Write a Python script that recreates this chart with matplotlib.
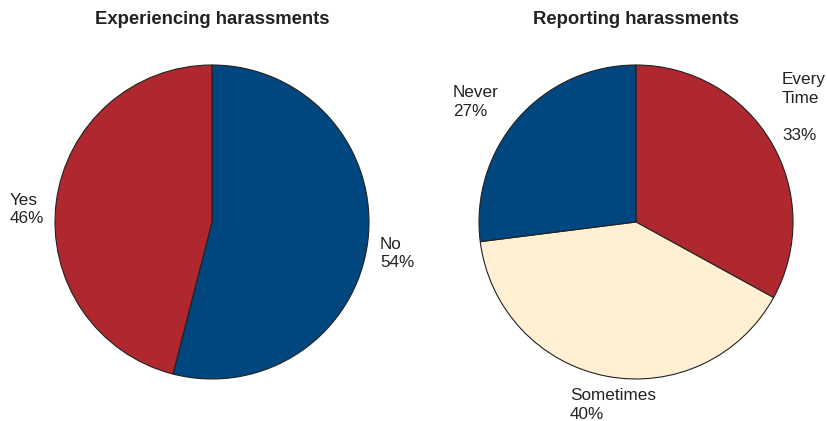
import matplotlib.pyplot as plt

plt.rcParams['font.family'] = ['Liberation Sans', 'DejaVu Sans']

# experiencing harassments
exp_labels = ['No', 'Yes']
exp_values = [54, 46]
# reporting harassments
rep_labels = ['Every\nTime\n', 'Sometimes', 'Never']
rep_values = [33, 40, 27]

blue = '#00467F'
red = '#B0282F'
cream = '#FFF0D4'

fig = plt.figure(figsize=(8.27, 4.21), dpi=100)
ax1 = fig.add_axes([0.0665, 0.0998, 0.3797, 0.7458])
ax2 = fig.add_axes([0.5792, 0.0998, 0.3797, 0.7458])

wp = dict(edgecolor='#222222', linewidth=0.8)
ax1.pie(exp_values, colors=[blue, red], startangle=90, counterclock=False,
        wedgeprops=wp)
ax2.pie(rep_values, colors=[red, cream, blue], startangle=90, counterclock=False,
        wedgeprops=wp)

for ax in (ax1, ax2):
    ax.set_xlim(-1, 1)
    ax.set_ylim(-1, 1)
    ax.set_aspect('equal')
    ax.axis('off')

# label positions in pie radius units
exp_pos = [(1.07, -0.20), (-1.287, 0.08)]
rep_pos = [(0.93, 0.73), (-0.42, -1.166), (-1.166, 0.764)]

fs = 12.3
for lab, v, (x, y) in zip(exp_labels, exp_values, exp_pos):
    ax1.text(x, y, f'{lab}\n{v}%', ha='left', va='center', fontsize=fs,
             color='#222222', linespacing=1.3, clip_on=False)
for lab, v, (x, y) in zip(rep_labels, rep_values, rep_pos):
    ax2.text(x, y, f'{lab}\n{v}%', ha='left', va='center', fontsize=fs,
             color='#222222', linespacing=1.3, clip_on=False)

fig.text(212 / 827, 1 - 20 / 421, 'Experiencing harassments', ha='center',
         va='center', fontsize=13.3, fontweight='bold', color='#222222')
fig.text(636 / 827, 1 - 20 / 421, 'Reporting harassments', ha='center',
         va='center', fontsize=13.3, fontweight='bold', color='#222222')

fig.savefig('out.png', dpi=100)
